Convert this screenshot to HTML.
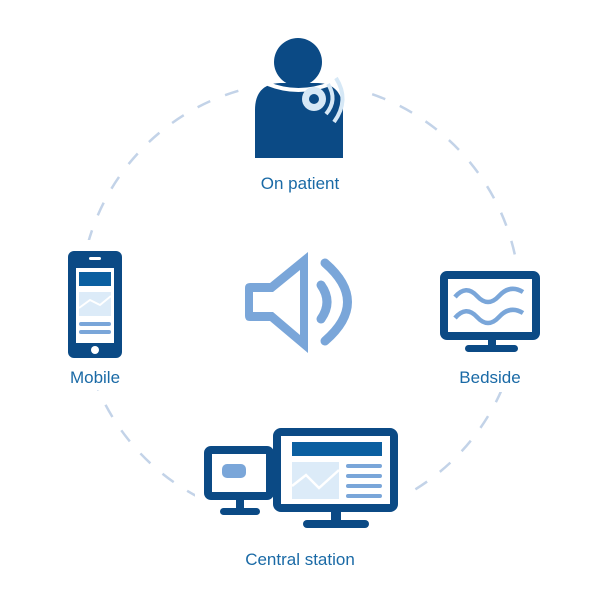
<!DOCTYPE html>
<html><head><style>
body{margin:0;background:#fff;}
svg{display:block}
text{font-family:"Liberation Sans",sans-serif;font-size:17px;fill:#1a6aa6;text-anchor:middle}
</style></head><body>
<svg width="600" height="600" viewBox="0 0 600 600">
<circle cx="300" cy="302" r="220" fill="none" stroke="#c3d3e8" stroke-width="2.5" stroke-dasharray="14 16"/>
<!-- white masks behind icons -->
<rect x="240" y="28" width="125" height="182" fill="#fff"/>
<rect x="55" y="240" width="90" height="150" fill="#fff"/>
<rect x="430" y="262" width="120" height="130" fill="#fff"/>
<rect x="195" y="418" width="215" height="155" fill="#fff"/>
<!-- person -->
<circle cx="298" cy="62" r="24" fill="#0b4a85"/>
<path d="M255 158 V110 Q255 84 280 83 H318 Q343 84 343 112 V158 Z" fill="#0b4a85"/>
<path d="M268 84 Q298 96 330 84" fill="none" stroke="#fff" stroke-width="4"/>
<circle cx="314" cy="99" r="12" fill="#d6e8f6"/>
<circle cx="314" cy="99" r="5" fill="#0b4a85"/>
<path d="M328 84 Q338 100 326 114" fill="none" stroke="#d6e8f6" stroke-width="4"/>
<path d="M336 78 Q350 100 334 122" fill="none" stroke="#d6e8f6" stroke-width="4"/>
<text x="300" y="189">On patient</text>
<!-- speaker -->
<path d="M250 283 H270 L308 252 V353 L270 321 H250 Q245 321 245 316 V288 Q245 283 250 283 Z" fill="#7aa6d9"/>
<path d="M253 292 H273 L300 270 V335 L273 312 H253 Z" fill="#fff"/>
<path d="M321 285 Q333 302 321 319" fill="none" stroke="#7aa6d9" stroke-width="9" stroke-linecap="round"/>
<path d="M325 263 Q370 302 325 341" fill="none" stroke="#7aa6d9" stroke-width="9" stroke-linecap="round"/>
<!-- mobile -->
<rect x="68" y="251" width="54" height="107" rx="6" fill="#0b4a85"/>
<rect x="76" y="268" width="38" height="75" fill="#fff"/>
<rect x="89" y="257" width="12" height="3" rx="1.5" fill="#fff"/>
<circle cx="95" cy="350" r="4" fill="#fff"/>
<rect x="79" y="272" width="32" height="14" fill="#0b5fa0"/>
<rect x="79" y="292" width="32" height="24" fill="#dcebf8"/>
<path d="M79 308 L90 300 L100 305 L111 296" fill="none" stroke="#fff" stroke-width="2"/>
<rect x="79" y="322" width="32" height="4" rx="2" fill="#7aa6d9"/>
<rect x="79" y="330" width="32" height="4" rx="2" fill="#7aa6d9"/>
<text x="95" y="383">Mobile</text>
<!-- bedside -->
<rect x="444" y="275" width="92" height="61" rx="3" fill="#fff" stroke="#0b4a85" stroke-width="8"/>
<rect x="488" y="338" width="8" height="10" fill="#0b4a85"/>
<rect x="465" y="345" width="53" height="7" rx="3.5" fill="#0b4a85"/>
<path d="M455 297 Q466 284 477 296 T499 296 T523 292" fill="none" stroke="#7aa6d9" stroke-width="4.5"/>
<path d="M455 318 Q466 305 477 317 T499 317 T523 313" fill="none" stroke="#7aa6d9" stroke-width="4.5"/>
<text x="490" y="383">Bedside</text>
<!-- central station small -->
<rect x="208" y="450" width="62" height="46" rx="3" fill="#fff" stroke="#0b4a85" stroke-width="8"/>
<rect x="222" y="464" width="24" height="14" rx="5" fill="#7aa6d9"/>
<rect x="236" y="499" width="8" height="10" fill="#0b4a85"/>
<rect x="220" y="508" width="40" height="7" rx="3.5" fill="#0b4a85"/>
<!-- central station big -->
<rect x="277" y="432" width="117" height="76" rx="4" fill="#fff" stroke="#0b4a85" stroke-width="8"/>
<rect x="292" y="442" width="90" height="14" fill="#0b5fa0"/>
<rect x="292" y="462" width="47" height="37" fill="#dcebf8"/>
<path d="M292 486 L306 475 L319 488 L339 470" fill="none" stroke="#fff" stroke-width="2.5"/>
<rect x="346" y="464" width="36" height="4" rx="2" fill="#7aa6d9"/>
<rect x="346" y="474" width="36" height="4" rx="2" fill="#7aa6d9"/>
<rect x="346" y="484" width="36" height="4" rx="2" fill="#7aa6d9"/>
<rect x="346" y="494" width="36" height="4" rx="2" fill="#7aa6d9"/>
<rect x="331" y="510" width="10" height="12" fill="#0b4a85"/>
<rect x="303" y="520" width="66" height="8" rx="4" fill="#0b4a85"/>
<text x="300" y="565">Central station</text>
</svg>
</body></html>
